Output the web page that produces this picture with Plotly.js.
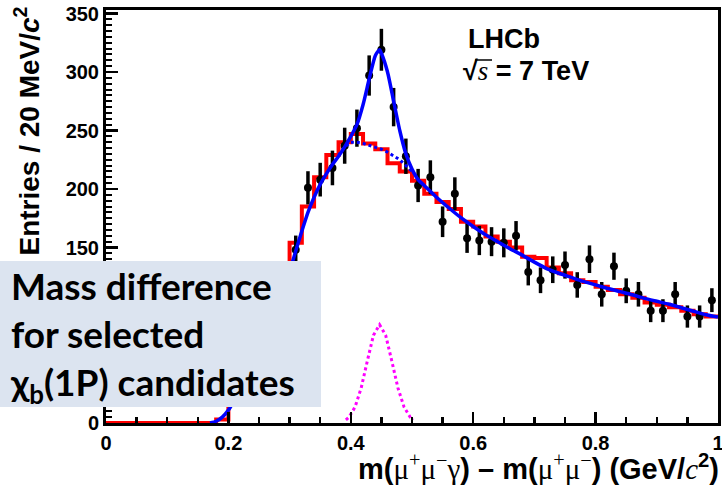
<!DOCTYPE html>
<html>
<head>
<meta charset="utf-8">
<script src="https://cdn.plot.ly/plotly-3.0.1.min.js"></script>
<style>html,body{margin:0;padding:0;background:#fff;}#chart{width:722px;height:485px;}</style>
</head>
<body>
<div id="chart"></div>
<script>
// ---- data ----
// red histogram: bin centres (20 MeV bins) and contents
const histCenters = [0.01,0.03,0.05,0.07,0.09,0.11,0.13,0.15,0.17,0.19,0.21,0.23,0.25,0.27,0.29,0.31,0.33,0.35,0.37,0.39,0.41,0.43,0.45,0.47,0.49,0.51,0.53,0.55,0.57,0.59,0.61,0.63,0.65,0.67,0.69,0.71,0.73,0.75,0.77,0.79,0.81,0.83,0.85,0.87,0.89,0.91,0.93,0.95,0.97,0.99];
const histValues = [0,0,0,0,0,0,0,0,0,3,16,36,62,92,125,154,185,210,229,240,247,239,234,222,215,207,196,189,183,172,168,159.5,155,150,142,141,133,128,122,120.5,116.5,113.7,110,107,103,101,99,96,93,91];

// data points
const dataX = [0.21,0.23,0.25,0.27,0.29,0.31,0.33,0.35,0.37,0.39,0.41,0.43,0.45,0.47,0.49,0.51,0.53,0.55,0.57,0.59,0.61,0.63,0.65,0.67,0.69,0.71,0.73,0.75,0.77,0.79,0.81,0.83,0.85,0.87,0.89,0.91,0.93,0.95,0.97,0.99];
const dataY = [20,40,62,88,115,148,201,208,218,237,252,297,319,270,228,203,210,172,196,158,156,155,154,160,129,122,131,135,118,140,110,134,113,110,96,96,110,91,91,105];
const dataErr = [4.5,6.3,7.9,9.4,10.7,12.2,14.2,14.4,14.8,15.4,15.9,17.2,17.9,16.4,15.1,14.2,14.5,13.1,14,12.6,12.5,12.4,12.4,12.6,11.4,11,11.4,11.6,10.9,11.8,10.5,11.6,10.6,10.5,9.8,9.8,10.5,9.5,9.5,10.2];

// total fit (solid blue)
const fitX = [0.17,0.18,0.19,0.20,0.21,0.22,0.24,0.26,0.28,0.30,0.31,0.32,0.33,0.34,0.35,0.36,0.37,0.38,0.39,0.40,0.41,0.42,0.43,0.44,0.447,0.45,0.46,0.47,0.48,0.49,0.50,0.51,0.52,0.54,0.56,0.58,0.60,0.62,0.64,0.66,0.68,0.70,0.72,0.74,0.76,0.78,0.80,0.82,0.84,0.86,0.88,0.90,0.92,0.94,0.96,0.98,1.00];
const fitY = [0,1.5,5,11,20,31,56,82,107,130,147,164,180,193,204,213,221,228,236,245,255,272,294,314,319,316,300,275,250,230,217,208,203,193,184,175.5,168,161,155,149,143.5,137.5,132,128,124.5,121,118,115,112.3,109.6,106.5,104,101.5,98.5,95.5,92.5,90.5];

// background component (dotted blue)
const bkgX = [0.38,0.39,0.40,0.41,0.42,0.43,0.44,0.45,0.46,0.47,0.48,0.49,0.50];
const bkgY = [229,236,240,240,239,237.5,236,234,231.5,228.5,225,220,215];

// signal component (dotted magenta)
const sigX = [0.392,0.397,0.407,0.417,0.427,0.437,0.447,0.457,0.467,0.477,0.487,0.497,0.502];
const sigY = [2.7,5,13.7,30,53,75,84,75,53,30,13.7,5,2.7];

// ---- build step outline for the histogram from bin centres ----
const binW = 0.02;
const stepX = histCenters.map(c => c - binW/2).concat([histCenters[histCenters.length-1] + binW/2]);
const stepY = histValues.concat([histValues[histValues.length-1]]);

const traces = [
  {x: stepX, y: stepY, type:'scatter', mode:'lines', line:{shape:'hv', color:'#ff0000', width:4}, hoverinfo:'skip'},
  {x: dataX, y: dataY, type:'scatter', mode:'markers',
   marker:{color:'#000', size:8, symbol:'circle'},
   error_y:{type:'data', array: dataErr, visible:true, color:'#000', thickness:3.5, width:0}},
  {x: bkgX, y: bkgY, type:'scatter', mode:'lines', line:{color:'#0000ff', width:3, dash:'3px,3px'}},
  {x: sigX, y: sigY, type:'scatter', mode:'lines', line:{color:'#ff00ff', width:3, dash:'3px,3px'}},
  {x: fitX, y: fitY, type:'scatter', mode:'lines', line:{color:'#0000ff', width:3.5, shape:'spline', smoothing:0.6}}
];

const px2x = p => (p - 106) / 612;
const px2y = p => (423 - p) / 413;

const tickFont = {family:'Liberation Sans, Arial, sans-serif', size:20, color:'#000', weight:'bold'};
const serif = 'font-family:Liberation Serif;font-weight:normal';

const layout = {
  width:722, height:485,
  margin:{l:106, r:4, t:10, b:62, pad:0},
  paper_bgcolor:'#fff', plot_bgcolor:'#fff',
  showlegend:false,
  xaxis:{range:[0,1], showgrid:false, zeroline:false, showline:true, mirror:true, linecolor:'#000', linewidth:3,
         ticks:'inside', ticklen:11, tickwidth:2.5, tickcolor:'#000', dtick:0.2, tick0:0,
         minor:{ticks:'inside', ticklen:6, tickwidth:2.5, dtick:0.05, tickcolor:'#000'},
         tickfont:tickFont, ticklabelstandoff:0, ticklabeloverflow:'allow'},
  yaxis:{range:[0,353], showgrid:false, zeroline:false, showline:true, mirror:true, linecolor:'#000', linewidth:3,
         ticks:'inside', ticklen:12, tickwidth:2.5, tickcolor:'#000', dtick:50, tick0:0,
         minor:{ticks:'inside', ticklen:6, tickwidth:2, dtick:5, tickcolor:'#000'},
         tickfont:tickFont, ticklabelstandoff:0, ticklabeloverflow:'allow'},
  shapes:[
    {type:'line', xref:'paper', yref:'paper', x0:px2x(475), x1:px2x(492), y0:px2y(60), y1:px2y(60), line:{color:'#000', width:1.5}, layer:'above'}
  ],
  annotations:[
    {xref:'paper', yref:'paper', x:px2x(27), y:px2y(4), xanchor:'center', yanchor:'top', textangle:-90, showarrow:false,
     text:'Entries / 20 MeV/<i>c</i><sup>2</sup>', font:{family:'Liberation Sans, Arial, sans-serif', size:28, color:'#000', weight:'bold'}},
    {xref:'paper', yref:'paper', x:px2x(0), y:px2y(261), xanchor:'left', yanchor:'top', showarrow:false,
     text:' ', width:321, height:146, bgcolor:'#dce4f0', borderpad:0, borderwidth:0},
    {xref:'paper', yref:'paper', x:px2x(8), y:px2y(336), xanchor:'left', yanchor:'middle', showarrow:false, align:'left',
     text:'Mass difference<br>for selected<br>χ<sub>b</sub>(1P) candidates',
     font:{family:'Lato, sans-serif', size:37, color:'#000', weight:'bold'}},
    {xref:'paper', yref:'paper', x:px2x(466), y:px2y(39), xanchor:'left', yanchor:'middle', showarrow:false,
     text:'LHCb', font:{family:'Liberation Sans, Arial, sans-serif', size:27, color:'#000', weight:'bold'}},
    {xref:'paper', yref:'paper', x:px2x(461), y:px2y(71), xanchor:'left', yanchor:'middle', showarrow:false,
     text:'√<span style="' + serif + '"><i>s</i></span> = 7 TeV', font:{family:'Liberation Sans, Arial, sans-serif', size:27, color:'#000', weight:'bold'}},
    {xref:'paper', yref:'paper', x:px2x(721), y:px2y(467), xanchor:'right', yanchor:'middle', showarrow:false,
     text:'m(<span style="' + serif + '">μ<sup>+</sup>μ<sup>−</sup>γ</span>) – m(<span style="' + serif + '">μ<sup>+</sup>μ<sup>−</sup></span>) (GeV/<span style="' + serif + '"><i>c</i></span><sup>2</sup>)',
     font:{family:'Liberation Sans, Arial, sans-serif', size:29, color:'#000', weight:'bold'}}
  ]
};

Plotly.newPlot('chart', traces, layout, {displayModeBar:false, staticPlot:true});
</script>
</body>
</html>
